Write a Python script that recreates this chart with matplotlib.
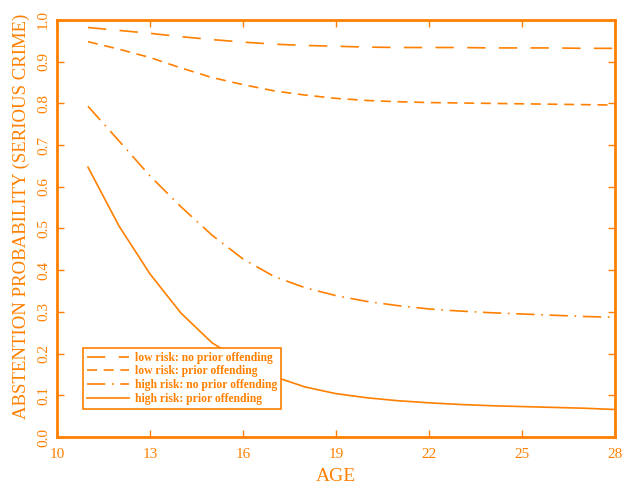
import matplotlib
matplotlib.use('Agg')
import matplotlib.pyplot as plt

ORANGE = '#ff8000'

age = [11, 12, 13, 14, 15, 16, 17, 18, 19, 20, 21, 22, 23, 24, 25, 26, 27, 28]

low_no_prior = [0.982, 0.975, 0.968, 0.960, 0.953, 0.947, 0.942, 0.939, 0.937,
                0.935, 0.934, 0.934, 0.934, 0.933, 0.933, 0.933, 0.932, 0.932]
low_prior = [0.948, 0.930, 0.910, 0.885, 0.862, 0.845, 0.830, 0.820, 0.812,
             0.807, 0.804, 0.802, 0.801, 0.800, 0.799, 0.798, 0.797, 0.796]
high_no_prior = [0.793, 0.710, 0.626, 0.552, 0.484, 0.427, 0.385, 0.358, 0.339,
                 0.325, 0.315, 0.307, 0.302, 0.298, 0.295, 0.292, 0.289, 0.287]
high_prior = [0.647, 0.506, 0.391, 0.297, 0.226, 0.180, 0.145, 0.120, 0.104,
              0.094, 0.087, 0.082, 0.078, 0.075, 0.073, 0.071, 0.069, 0.066]

labels = ['low risk: no prior offending', 'low risk: prior offending',
          'high risk: no prior offending', 'high risk: prior offending']

x_ticks = [10, 13, 16, 19, 22, 25, 28]
y_ticks = [0.0, 0.1, 0.2, 0.3, 0.4, 0.5, 0.6, 0.7, 0.8, 0.9, 1.0]

plt.rcParams['font.family'] = ['Liberation Serif', 'DejaVu Serif']

fig = plt.figure(figsize=(6.25, 4.84), dpi=100)
ax = fig.add_axes([0.0912, 0.0971, 0.8928, 0.8616])

lw = 1.2
ax.plot(age, low_no_prior, color=ORANGE, lw=lw, dashes=(11, 8), label=labels[0])
ax.plot(age, low_prior, color=ORANGE, lw=lw, dashes=(6, 4), label=labels[1])
ax.plot(age, high_no_prior, color=ORANGE, lw=lw, dashes=(11, 4, 1, 4), label=labels[2])
ax.plot(age, high_prior, color=ORANGE, lw=lw, label=labels[3])

ax.set_xlim(10, 28)
ax.set_ylim(0, 1)
ax.set_xticks(x_ticks)
ax.set_xticklabels([str(t) for t in x_ticks])
ax.set_yticks(y_ticks)
ax.set_yticklabels(['%.1f' % t for t in y_ticks], rotation=90, va='center')

ax.tick_params(direction='in', length=5, width=1, colors=ORANGE, labelsize=11,
               top=True, right=True)
ax.tick_params(axis='x', pad=8)
ax.tick_params(axis='y', pad=5)
for s in ax.spines.values():
    s.set_color(ORANGE)
    s.set_linewidth(2)

ax.set_xlabel('AGE', color=ORANGE, fontsize=14, labelpad=5)
ax.set_ylabel('ABSTENTION PROBABILITY (SERIOUS CRIME)', color=ORANGE, fontsize=13.5)
ax.yaxis.set_label_coords(-0.049, 0.53)

leg = ax.legend(loc='lower left', bbox_to_anchor=(0.047, 0.067), borderaxespad=0,
                fancybox=False, framealpha=1, edgecolor=ORANGE, handlelength=3.6,
                handletextpad=0.5, labelspacing=0.15, borderpad=0.35,
                prop={'size': 8.4, 'weight': 'bold'})
leg.get_frame().set_linewidth(1.2)
for t in leg.get_texts():
    t.set_color(ORANGE)

fig.savefig('out.png', dpi=100)
